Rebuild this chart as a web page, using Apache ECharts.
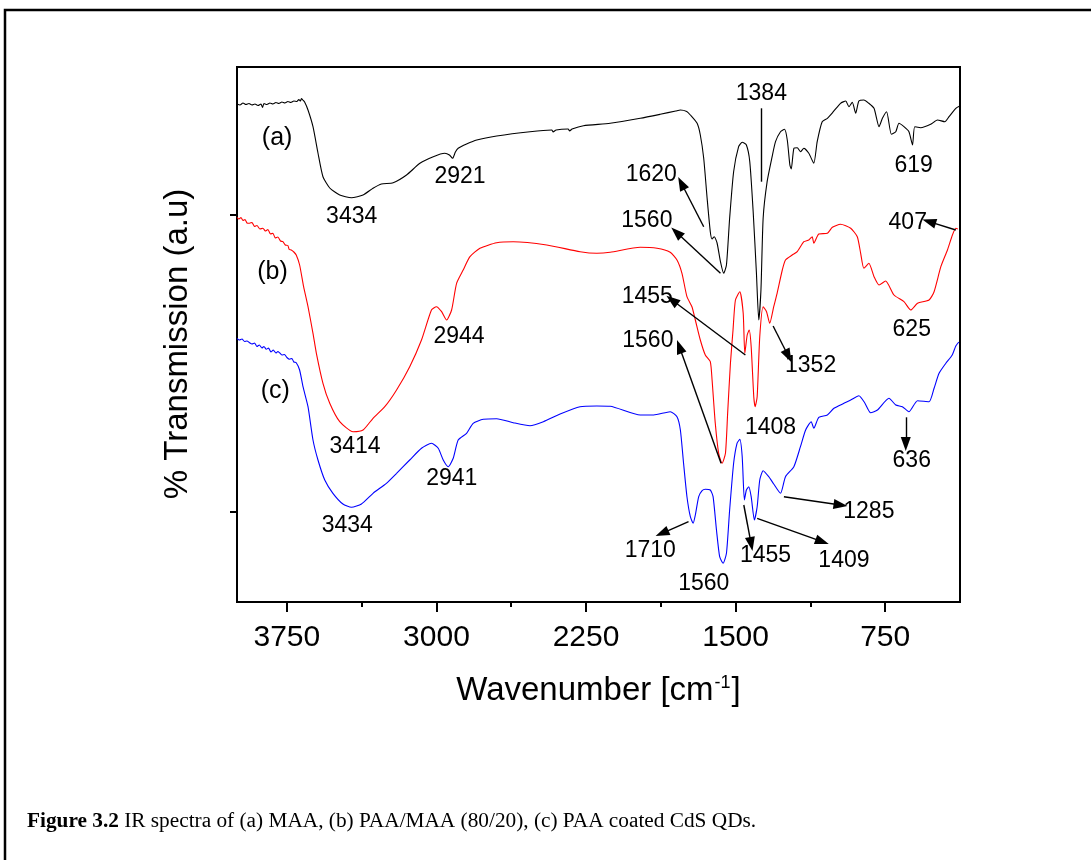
<!DOCTYPE html>
<html><head><meta charset="utf-8">
<script src="https://cdn.jsdelivr.net/npm/echarts@6/dist/echarts.min.js"></script>
<style>html,body{margin:0;padding:0;background:#fff}#c{width:1091px;height:860px}</style>
</head><body><div id="c"></div>
<script>
// ---------- DATA ----------
const seriesNames = ['(a) MAA', '(b) PAA/MAA (80/20)', '(c) PAA coated CdS QDs'];
const seriesColors = ['#000000', '#ff0000', '#0000ff'];

// [wavenumber (cm-1), transmission (a.u.)]
const spectrumA = [[4000,498],[3985,497],[3970,499],[3955,497.5],[3940,498.5],[3925,497],[3910,498],[3895,496.5],[3880,498],[3872,494.5],[3865,498.5],[3850,497.5],[3835,499],[3820,498],[3805,499.5],[3790,498.5],[3775,500],[3760,499],[3745,500.5],[3730,499.5],[3715,501],[3700,500.5],[3690,502.5],[3682,501],[3677,503.5],[3670,502],[3661,500],[3644,492],[3619,475.3],[3594,449],[3569,425.3],[3535,414],[3485,407],[3426,404.3],[3368,407],[3318,413.7],[3276,418],[3217,419.3],[3150,427],[3083,438.7],[3016,445.3],[2958,448.7],[2935,447],[2919,443.7],[2905,450],[2891,453.7],[2849,458],[2798,462],[2698,466],[2531,470.3],[2422,472],[2415,470],[2400,472],[2340,473],[2332,471],[2320,473],[2263,476.3],[2129,478.7],[1978,483.7],[1878,487.7],[1800,491],[1777,492],[1745,490.5],[1727,487],[1693,478.7],[1677,467],[1660,443.7],[1643,404],[1627,370.3],[1618,363],[1607,365.3],[1593,359],[1576,340.3],[1560,328.7],[1546,337],[1530,383.7],[1510,430.3],[1485,455.3],[1467,459.7],[1446,457],[1429,440.3],[1412,390.3],[1396,330.3],[1384,282],[1373,312],[1362,383.7],[1342,420.3],[1317,445.3],[1300,460.3],[1275,470.3],[1255,472.7],[1241,462],[1228,437],[1221,433],[1208,453.7],[1191,454.3],[1175,450.3],[1158,453.7],[1133,448.7],[1108,438.7],[1091,460.3],[1066,480.3],[1040,483.7],[1010,490.3],[974,498.7],[948,501],[932,495.3],[915,499.7],[898,488.7],[882,501],[857,502],[832,498.7],[806,493.7],[781,475.3],[764,483.7],[743,490.3],[719,467.7],[697,470.3],[681,478.7],[656,475.3],[631,470.3],[613,457],[602,475.3],[572,474.3],[522,477.7],[488,482],[451,480.3],[430,485.3],[396,493.7],[376,496]];

const spectrumB = [[4000,384.7],[3990,383],[3980,384.5],[3970,381.5],[3960,382.5],[3950,379],[3937,378.7],[3925,379.5],[3912,375.5],[3900,376.5],[3885,373],[3870,373.7],[3858,371],[3845,372.5],[3832,368],[3820,368.7],[3808,364],[3795,365],[3782,361],[3770,360.3],[3758,357],[3745,356.5],[3738,352.5],[3728,352],[3715,350],[3703,347],[3686,337],[3666,315.3],[3644,295.3],[3619,268.7],[3602,248.7],[3569,218.7],[3535,198.7],[3485,180.3],[3418,170.3],[3368,172],[3318,183.7],[3259,195.3],[3200,212],[3134,235.3],[3075,262],[3025,292],[3000,295.3],[2974,290.3],[2949,282],[2924,292],[2899,318.7],[2866,332],[2832,345.3],[2782,353.7],[2698,359.3],[2615,360.3],[2447,357],[2280,350.3],[2196,348.7],[2129,349.7],[1978,354.7],[1894,353.7],[1828,349.7],[1794,342],[1769,328.7],[1744,305.3],[1719,295.3],[1702,282],[1677,262],[1652,247],[1627,240.3],[1618,222],[1602,178.7],[1585,148.7],[1568,138.7],[1551,148.7],[1540,188.7],[1526,238.7],[1513,272],[1501,302],[1479,310.3],[1462,288.7],[1454,248.7],[1442,267],[1432,272],[1422,255.3],[1409,205.3],[1402,195.3],[1392,205.3],[1379,265.3],[1362,295.3],[1345,290.3],[1329,278.7],[1309,295.3],[1292,308.7],[1266,332],[1250,342],[1216,347],[1191,350.3],[1158,360.3],[1133,362],[1116,365.3],[1108,358.7],[1083,368],[1040,368.7],[1015,374.7],[974,377.7],[923,373.7],[890,365.3],[873,348.7],[857,333.7],[832,338.7],[806,325.3],[781,317],[748,321],[706,307],[656,300.3],[622,292],[588,298.7],[530,302],[505,310.3],[471,335.3],[438,352],[413,367],[396,373.7],[386,373]];

const spectrumC = [[4000,263.7],[3988,262],[3975,263],[3962,260.5],[3950,261],[3937,259.3],[3925,258],[3912,259],[3900,255.5],[3888,257],[3875,254],[3865,255.5],[3853,252.7],[3842,254],[3830,250],[3818,252],[3805,249],[3795,250.5],[3787,249.3],[3775,247],[3762,247.5],[3750,244.5],[3736,242.7],[3725,243.5],[3715,240],[3703,239.3],[3686,232],[3669,215.3],[3644,195.3],[3619,162],[3594,142],[3560,122],[3519,108.7],[3469,98],[3426,94.7],[3376,98],[3318,108.7],[3251,118.7],[3200,128.7],[3134,142],[3075,153.7],[3025,158.7],[2991,153.7],[2966,142],[2941,135.3],[2916,143.7],[2891,162],[2849,168.7],[2816,178.7],[2765,182.7],[2698,183.3],[2615,179.3],[2531,176.3],[2464,180.3],[2380,188],[2280,195.3],[2196,196],[2129,195.7],[1978,187],[1911,187],[1828,190.3],[1794,185.3],[1777,172],[1761,138.7],[1744,105.3],[1727,85.3],[1713,78.7],[1702,87],[1685,105.3],[1668,111.3],[1652,112.7],[1627,112],[1613,105.3],[1596,72],[1580,45.3],[1563,38.7],[1546,48.7],[1530,92],[1510,138.7],[1493,158.7],[1479,162.7],[1467,145.3],[1456,102],[1446,112],[1434,115.3],[1422,105.3],[1406,82],[1392,95.3],[1379,122],[1362,131.3],[1334,125.3],[1309,118],[1275,108.7],[1250,125.3],[1208,135.3],[1175,155.3],[1149,172],[1121,180.3],[1108,173.7],[1083,184.7],[1040,187],[1007,193.7],[957,198.7],[923,202],[882,206.3],[853,199.3],[823,189.3],[789,192],[731,203.7],[697,197],[664,195.3],[631,190.3],[588,201.3],[530,200.3],[505,213.7],[480,228.7],[446,238.7],[414,247],[396,256],[381,260]];

// axis
const xMin = 375, xMax = 4000;
const yMin = 0, yMax = 535;
const xMajorTicks = [750, 1500, 2250, 3000, 3750];
const xMinorTicks = [1125, 1875, 2625, 3375];
const yTicks = [90, 387];

// annotations: [wavenumber, value, text]
const curveTags = [[3799,464,'(a)'],[3822,330,'(b)'],[3808,211,'(c)']];
const peakLabels = [
  [3425,385,'3434'],[2882,425,'2921'],[1371,508.7,'1384'],[1923,427,'1620'],[1945,381,'1560'],
  [607,436.5,'619'],[637,379,'407'],[2887,265,'2944'],[1943,305,'1455'],[617,272,'625'],
  [1940,261,'1560'],[3408,155,'3414'],[1124,236,'1352'],[1325,174.5,'1408'],[617,141,'636'],
  [2923,123,'2941'],[3447,76,'3434'],[832,90.7,'1285'],[1928,51,'1710'],[1660,18,'1560'],
  [1350,46,'1455'],[957,41,'1409']
];
// arrows: [fromX, fromY, toX, toY] (head at "to")
const arrows = [
  [1660,375.3,1772,418.7],[1576,328.7,1797,369.7],[396,372,530,380.3],[1451,247,1819,302],
  [1312,276,1236,246],[1573,138.7,1782,255.3],[1736,80.3,1869,68.7],[1459,97,1422,58],
  [1392,83.7,1066,60.3],[1258,105.3,974,97],[647,184.7,647,158]
];
const plainLines = [[1370,493.7,1370,420.3]];

const axisTitleX = 'Wavenumber [cm{sup|-1}]';
const axisTitleY = '% Transmission (a.u)';
const captionBold = 'Figure 3.2';
const captionText = ' IR spectra of (a) MAA, (b) PAA/MAA (80/20), (c) PAA coated CdS QDs.';

// ---------- CHART ----------
const SANS = "'Liberation Sans', Arial, Helvetica, sans-serif";
const SERIF = "'Liberation Serif', 'Times New Roman', Times, serif";

const chart = echarts.init(document.getElementById('c'), null, {renderer: 'canvas'});

const markLineData = arrows.map(a => [
  {coord: [a[0], a[1]], symbol: 'none'},
  {coord: [a[2], a[3]], symbol: 'triangle', symbolSize: [10, 14]}
]).concat(plainLines.map(a => [
  {coord: [a[0], a[1]], symbol: 'none'},
  {coord: [a[2], a[3]], symbol: 'none'}
]));

const lineSeries = [spectrumA, spectrumB, spectrumC].map((d, i) => ({
  name: seriesNames[i],
  type: 'line',
  data: d,
  xAxisIndex: 0, yAxisIndex: 0,
  showSymbol: false, symbol: 'none',
  smooth: 0.2,
  lineStyle: {color: seriesColors[i], width: 1.1},
  itemStyle: {color: seriesColors[i]},
  silent: true,
  z: 3
}));

const labelStyle = size => ({
  show: true, position: 'inside', formatter: p => p.data[2],
  color: '#000', opacity: 1, fontFamily: SANS, fontSize: size, textBorderWidth: 0
});

chart.setOption({
  animation: false,
  textStyle: {fontFamily: SANS},
  grid: {left: 237, right: 131, top: 67, bottom: 258, show: true,
         borderColor: '#000', borderWidth: 2, backgroundColor: 'transparent'},
  xAxis: [{
    type: 'value', inverse: true, min: xMin, max: xMax,
    axisLine: {show: true, lineStyle: {color: '#000', width: 2}},
    axisTick: {show: true, customValues: xMajorTicks, length: 10, inside: false,
               lineStyle: {color: '#000', width: 2}},
    axisLabel: {show: true, customValues: xMajorTicks, margin: 21, color: '#000',
                fontFamily: SANS, fontSize: 30, formatter: v => String(v)},
    splitLine: {show: false},
    name: axisTitleX, nameLocation: 'middle', nameGap: 72,
    nameTextStyle: {color: '#000', fontFamily: SANS, fontSize: 33,
      rich: {sup: {fontSize: 18, fontFamily: SANS, color: '#000', verticalAlign: 'top', padding: [0, 1, 16, 1]}}}
  }, {
    type: 'value', inverse: true, min: xMin, max: xMax, position: 'bottom',
    axisLine: {show: false},
    axisTick: {show: true, customValues: xMinorTicks, length: 5, lineStyle: {color: '#000', width: 2}},
    axisLabel: {show: false}, splitLine: {show: false}
  }],
  yAxis: [{
    type: 'value', min: yMin, max: yMax,
    axisLine: {show: true, lineStyle: {color: '#000', width: 2}},
    axisTick: {show: true, customValues: yTicks, length: 7, lineStyle: {color: '#000', width: 2}},
    axisLabel: {show: false}, splitLine: {show: false}
  }],
  series: lineSeries.concat([{
    name: 'labels', type: 'scatter', symbolSize: 0, silent: true, z: 5,
    itemStyle: {opacity: 1, color: '#000'},
    data: peakLabels,
    label: labelStyle(23),
    markLine: {
      silent: true, animation: false,
      symbol: ['none', 'triangle'], symbolSize: [0, 14],
      label: {show: false},
      lineStyle: {color: '#000', width: 1.4, type: 'solid', opacity: 1},
      emphasis: {disabled: true},
      data: markLineData
    }
  }, {
    name: 'tags', type: 'scatter', symbolSize: 0, silent: true, z: 5,
    itemStyle: {opacity: 1, color: '#000'},
    data: curveTags,
    label: labelStyle(25)
  }]),
  graphic: [
    {type: 'rect', shape: {x: 5, y: 10, width: 1200, height: 1000},
     style: {fill: 'none', stroke: '#000', lineWidth: 2.5}, silent: true},
    {type: 'text', x: 178, y: 344, rotation: Math.PI / 2,
     style: {text: axisTitleY, fill: '#000', font: '33px ' + SANS, textAlign: 'center', textVerticalAlign: 'middle'}},
    {type: 'text', x: 27, y: 821,
     style: {text: '{b|' + captionBold + '}' + captionText, fill: '#000', font: '21.3px ' + SERIF,
             textVerticalAlign: 'middle',
             rich: {b: {fontWeight: 'bold', fontFamily: SERIF, fontSize: 21.3, fill: '#000'}}}}
  ]
});
</script>
</body></html>
